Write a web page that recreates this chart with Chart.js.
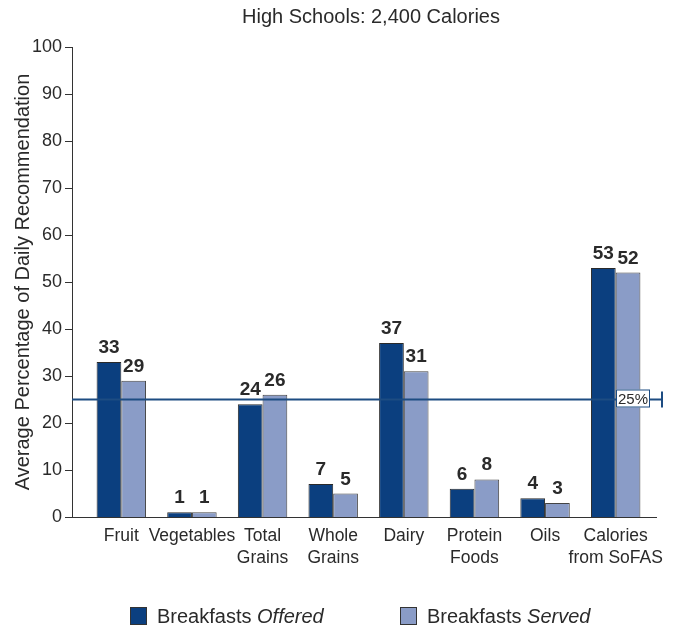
<!DOCTYPE html>
<html>
<head>
<meta charset="utf-8">
<script src="https://cdn.jsdelivr.net/npm/chart.js@4.4.0/dist/chart.umd.min.js"></script>
<style>
  html, body { margin: 0; padding: 0; background: #fff; }
  #wrap { width: 679px; height: 632px; position: relative; }
</style>
</head>
<body>
<div id="wrap"><canvas id="bar-chart"></canvas></div>
<script>
// food groups (multi-line labels as arrays)
const categories = [["Fruit"], ["Vegetables"], ["Total", "Grains"], ["Whole", "Grains"],
                    ["Dairy"], ["Protein", "Foods"], ["Oils"], ["Calories", "from SoFAS"]];
const offered = [33, 1, 24, 7, 37, 6, 4, 53];
const served  = [29, 1, 26, 5, 31, 8, 3, 52];
const yTicks  = [0, 10, 20, 30, 40, 50, 60, 70, 80, 90, 100];
const target  = 25;

const FONT = "'Liberation Sans', Arial, sans-serif";
const TEXT = '#2a2a2a';
const NAVY = '#0b3f7f';
const LIGHT = '#8a9cc7';
const LINE = '#1d4c82';

const extras = {
  id: 'extras',
  afterDatasetsDraw(chart) {
    const ctx = chart.ctx;
    const area = chart.chartArea;
    const y = chart.scales.y;
    const axisX = area.left - 14;
    ctx.save();

    // axes
    ctx.strokeStyle = '#333';
    ctx.lineWidth = 1;
    ctx.beginPath();
    ctx.moveTo(axisX + 0.5, y.getPixelForValue(100));
    ctx.lineTo(axisX + 0.5, y.getPixelForValue(0));
    ctx.moveTo(axisX - 7, Math.round(y.getPixelForValue(0)) + 0.5);
    ctx.lineTo(area.right + 6, Math.round(y.getPixelForValue(0)) + 0.5);
    yTicks.forEach(v => {
      const py = Math.round(y.getPixelForValue(v)) + 0.5;
      ctx.moveTo(axisX - 7, py);
      ctx.lineTo(axisX, py);
    });
    ctx.stroke();

    // value labels
    ctx.fillStyle = TEXT;
    ctx.font = 'bold 19px ' + FONT;
    ctx.textAlign = 'center';
    ctx.textBaseline = 'alphabetic';
    [offered, served].forEach((vals, i) => {
      chart.getDatasetMeta(i).data.forEach((bar, j) => {
        ctx.fillText(String(vals[j]), bar.x, bar.y - 9);
      });
    });

    // 25% reference line
    const ty = y.getPixelForValue(target);
    const endX = area.right + 11;
    ctx.strokeStyle = LINE;
    ctx.lineWidth = 2;
    ctx.beginPath();
    ctx.moveTo(axisX, ty);
    ctx.lineTo(endX, ty);
    ctx.moveTo(endX, ty - 8);
    ctx.lineTo(endX, ty + 8);
    ctx.stroke();

    ctx.fillStyle = '#fff';
    ctx.fillRect(616, ty - 10, 34, 18);
    ctx.lineWidth = 1;
    ctx.strokeRect(616.5, ty - 9.5, 33, 17);
    ctx.fillStyle = TEXT;
    ctx.font = '15px ' + FONT;
    ctx.textBaseline = 'middle';
    ctx.fillText(target + '%', 633, ty);

    // title
    ctx.font = '20px ' + FONT;
    ctx.textBaseline = 'middle';
    ctx.fillText('High Schools: 2,400 Calories', 371, 17);

    // legend
    const items = [[NAVY, 130, 'Offered'], [LIGHT, 400, 'Served']];
    ctx.textAlign = 'left';
    items.forEach(([col, x, word]) => {
      ctx.fillStyle = col;
      ctx.fillRect(x, 607, 17, 18);
      ctx.strokeStyle = '#333';
      ctx.lineWidth = 1;
      ctx.strokeRect(x + 0.5, 607.5, 16, 17);
      ctx.fillStyle = TEXT;
      ctx.font = '20px ' + FONT;
      ctx.fillText('Breakfasts ', x + 27, 617);
      const w = ctx.measureText('Breakfasts ').width;
      ctx.font = 'italic 20px ' + FONT;
      ctx.fillText(word, x + 27 + w, 617);
    });
    ctx.restore();
  }
};

new Chart(document.getElementById('bar-chart'), {
  type: 'bar',
  data: {
    labels: categories,
    datasets: [
      { label: 'Breakfasts Offered', data: offered, backgroundColor: NAVY, borderColor: '#2a2a2a', borderWidth: 1 },
      { label: 'Breakfasts Served', data: served, backgroundColor: LIGHT, borderColor: '#444', borderWidth: 1 }
    ]
  },
  options: {
    responsive: true,
    maintainAspectRatio: false,
    animation: false,
    layout: { padding: { top: 47, right: 28, left: 0, bottom: 0 } },
    datasets: { bar: { categoryPercentage: 0.7, barPercentage: 1 } },
    plugins: { legend: { display: false }, title: { display: false }, tooltip: { enabled: false } },
    scales: {
      x: {
        grid: { display: false },
        border: { display: false },
        ticks: { color: TEXT, font: { family: FONT, size: 17.5, lineHeight: 1.26 }, padding: 0, maxRotation: 0, autoSkip: false },
        afterFit: s => { s.height = 115; }
      },
      y: {
        min: 0, max: 100,
        grid: { display: false },
        border: { display: false },
        ticks: { stepSize: 10, color: TEXT, font: { family: FONT, size: 18 }, padding: 16 },
        title: { display: true, text: 'Average Percentage of Daily Recommendation', color: TEXT,
                 font: { family: FONT, size: 20 }, padding: { top: 11, bottom: 0 } },
        afterFit: s => { s.width = 86; }
      }
    }
  },
  plugins: [extras]
});
</script>
</body>
</html>
